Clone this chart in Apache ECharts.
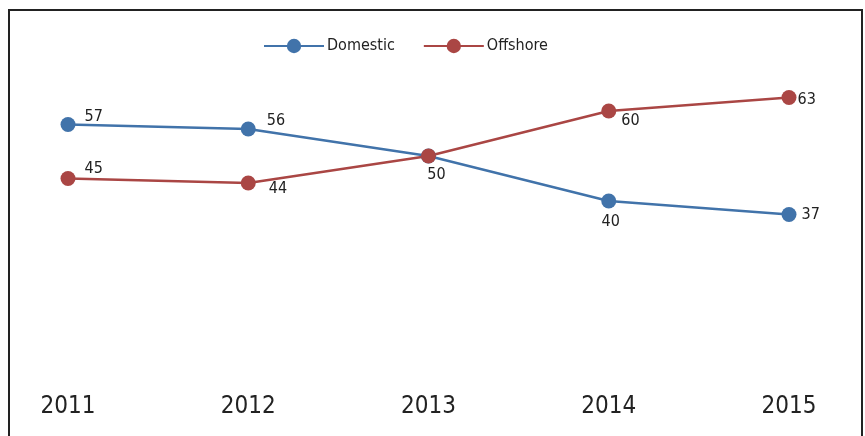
<!DOCTYPE html>
<html>
<head>
<meta charset="utf-8">
<script src="https://cdn.jsdelivr.net/npm/echarts@6/dist/echarts.min.js"></script>
<style>
  html, body { margin: 0; padding: 0; background: #fff; }
  #chart { width: 865px; height: 436px; }
</style>
</head>
<body>
<div id="chart"></div>
<script>
// Years on the horizontal axis
const years = ['2011', '2012', '2013', '2014', '2015'];
// Share of work by location
const domestic = [57, 56, 50, 40, 37];
const offshore = [45, 44, 50, 60, 63];

const seriesNames = ['Domestic', 'Offshore'];
const seriesColors = ['#4173AA', '#AA4644'];

// Where each value label sits around its point
const domesticLabelPlace = [
  { position: 'right', offset: [4, -8] },
  { position: 'right', offset: [6, -8] },
  { show: false },
  { position: 'bottom', offset: [2, 0] },
  { position: 'right', offset: [0, 0] }
];
const offshoreLabelPlace = [
  { position: 'right', offset: [4, -10] },
  { position: 'right', offset: [8, 6] },
  { position: 'bottom', offset: [8, -2] },
  { position: 'right', offset: [0, 10] },
  { position: 'right', offset: [-4, 2] }
];

const FONT = '"DejaVu Sans Condensed", "Open Sans", sans-serif';

function buildData(values, places) {
  return values.map((v, i) => ({
    value: v,
    label: Object.assign({}, places[i])
  }));
}

function lineSeries(idx, values, places) {
  return {
    name: seriesNames[idx],
    type: 'line',
    data: buildData(values, places),
    symbol: 'circle',
    symbolSize: 15,
    lineStyle: { color: seriesColors[idx], width: 2.5 },
    itemStyle: { color: seriesColors[idx] },
    label: {
      show: true,
      color: '#222',
      fontSize: 16,
      fontFamily: FONT
    },
    emphasis: { disabled: true },
    animation: false
  };
}

const chart = echarts.init(document.getElementById('chart'), null, { renderer: 'canvas' });
chart.setOption({
  backgroundColor: '#fff',
  animation: false,
  graphic: [{
    type: 'rect',
    shape: { x: 9, y: 10, width: 853, height: 440 },
    style: { fill: 'none', stroke: '#222', lineWidth: 2 },
    silent: true
  }],
  legend: {
    top: 33,
    left: 258,
    itemWidth: 60,
    itemHeight: 18,
    itemGap: 28,
    textStyle: { color: '#222', fontSize: 16, fontFamily: FONT, padding: [0, 0, 0, -2] },
    data: seriesNames
  },
  grid: { left: 68, right: 76, top: 21, bottom: 55 },
  xAxis: {
    type: 'category',
    data: years,
    boundaryGap: false,
    axisLine: { show: false },
    axisTick: { show: false },
    axisLabel: {
      color: '#222',
      fontSize: 24,
      fontFamily: FONT,
      margin: 14
    },
    splitLine: { show: false }
  },
  yAxis: {
    type: 'value',
    min: 0,
    max: 80,
    show: false
  },
  series: [
    lineSeries(0, domestic, domesticLabelPlace),
    lineSeries(1, offshore, offshoreLabelPlace)
  ]
});
</script>
</body>
</html>
